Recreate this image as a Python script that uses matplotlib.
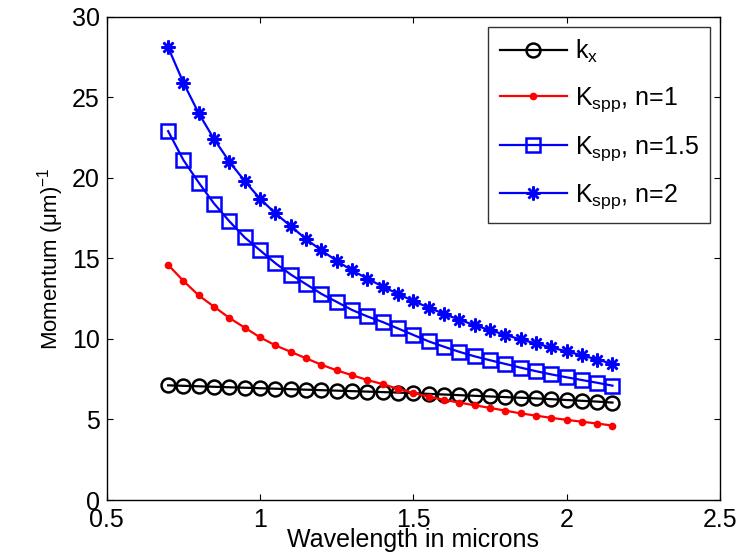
import numpy as np
import matplotlib
matplotlib.use("Agg")
import matplotlib.pyplot as plt

plt.rcParams['font.family'] = ['Liberation Sans', 'DejaVu Sans']
plt.rcParams['mathtext.fontset'] = 'custom'
plt.rcParams['mathtext.rm'] = 'Liberation Sans'
plt.rcParams['mathtext.it'] = 'Liberation Sans'
plt.rcParams['mathtext.default'] = 'regular'

# wavelength samples (microns)
wavelength = [0.70, 0.75, 0.80, 0.85, 0.90, 0.95, 1.00, 1.05, 1.10, 1.15,
              1.20, 1.25, 1.30, 1.35, 1.40, 1.45, 1.50, 1.55, 1.60, 1.65,
              1.70, 1.75, 1.80, 1.85, 1.90, 1.95, 2.00, 2.05, 2.10, 2.15]

k_x = [7.12, 7.09, 7.06, 7.03, 7.00, 6.97, 6.94, 6.91, 6.88, 6.85,
       6.82, 6.79, 6.76, 6.73, 6.70, 6.67, 6.63, 6.59, 6.55, 6.51,
       6.47, 6.43, 6.39, 6.35, 6.31, 6.26, 6.21, 6.16, 6.11, 6.05]

k_spp_n1 = [14.6, 13.6, 12.7, 12.0, 11.3, 10.7, 10.1, 9.6, 9.2, 8.8,
            8.4, 8.05, 7.75, 7.45, 7.2, 6.9, 6.65, 6.42, 6.22, 6.05,
            5.88, 5.72, 5.55, 5.38, 5.24, 5.1, 4.98, 4.86, 4.75, 4.62]

k_spp_n15 = [22.9, 21.1, 19.7, 18.4, 17.3, 16.3, 15.5, 14.7, 14.0, 13.4,
             12.8, 12.3, 11.8, 11.4, 11.05, 10.65, 10.25, 9.85, 9.52, 9.2,
             8.92, 8.68, 8.45, 8.22, 8.0, 7.8, 7.62, 7.45, 7.28, 7.1]

k_spp_n2 = [28.1, 25.9, 24.0, 22.4, 21.0, 19.8, 18.7, 17.8, 17.0, 16.2,
            15.5, 14.85, 14.25, 13.75, 13.25, 12.8, 12.35, 11.95, 11.55, 11.2,
            10.85, 10.55, 10.25, 9.97, 9.72, 9.47, 9.23, 8.98, 8.72, 8.45]

fig = plt.figure(figsize=(7.42, 5.59), dpi=100)
ax = fig.add_axes([0.144, 0.1055, 0.826, 0.8645])

ax.plot(wavelength, k_x, color='black', lw=1.6, marker='o', ms=10,
        mfc='none', mec='black', mew=1.8, label=r'k$_x$')
ax.plot(wavelength, k_spp_n1, color='red', lw=1.6, marker='.', ms=9,
        label=r'K$_{spp}$, n=1')
ax.plot(wavelength, k_spp_n15, color='blue', lw=1.6, marker='s', ms=10,
        mfc='none', mec='blue', mew=1.8, label=r'K$_{spp}$, n=1.5')
ax.plot(wavelength, k_spp_n2, color='blue', lw=1.6, marker=(8, 2, 0), ms=10,
        mfc='blue', mec='blue', mew=1.8, label=r'K$_{spp}$, n=2')

ax.set_xlim(0.5, 2.5)
ax.set_ylim(0, 30)
ax.set_xticks([0.5, 1, 1.5, 2, 2.5])
ax.set_xticklabels(['0.5', '1', '1.5', '2', '2.5'])
ax.set_yticks([0, 5, 10, 15, 20, 25, 30])
ax.tick_params(direction='in', length=4, width=0.8, labelsize=18,
               top=True, right=True)
ax.tick_params(axis='x', pad=6)
ax.tick_params(axis='y', pad=5)
for s in ax.spines.values():
    s.set_linewidth(1.0)

ax.set_xlabel('Wavelength in microns', fontsize=18, labelpad=-3)
ax.set_ylabel(r'Momentum ($\mathrm{\mu}$m)$^{-1}$', fontsize=16, labelpad=4)

leg = ax.legend(loc='upper right', fontsize=18, frameon=True, fancybox=False,
                edgecolor='black', handlelength=2.7, borderaxespad=0.4,
                labelspacing=0.8, handletextpad=0.3, borderpad=0.45)
leg.get_frame().set_linewidth(1.0)

fig.savefig('out.png', dpi=100)
